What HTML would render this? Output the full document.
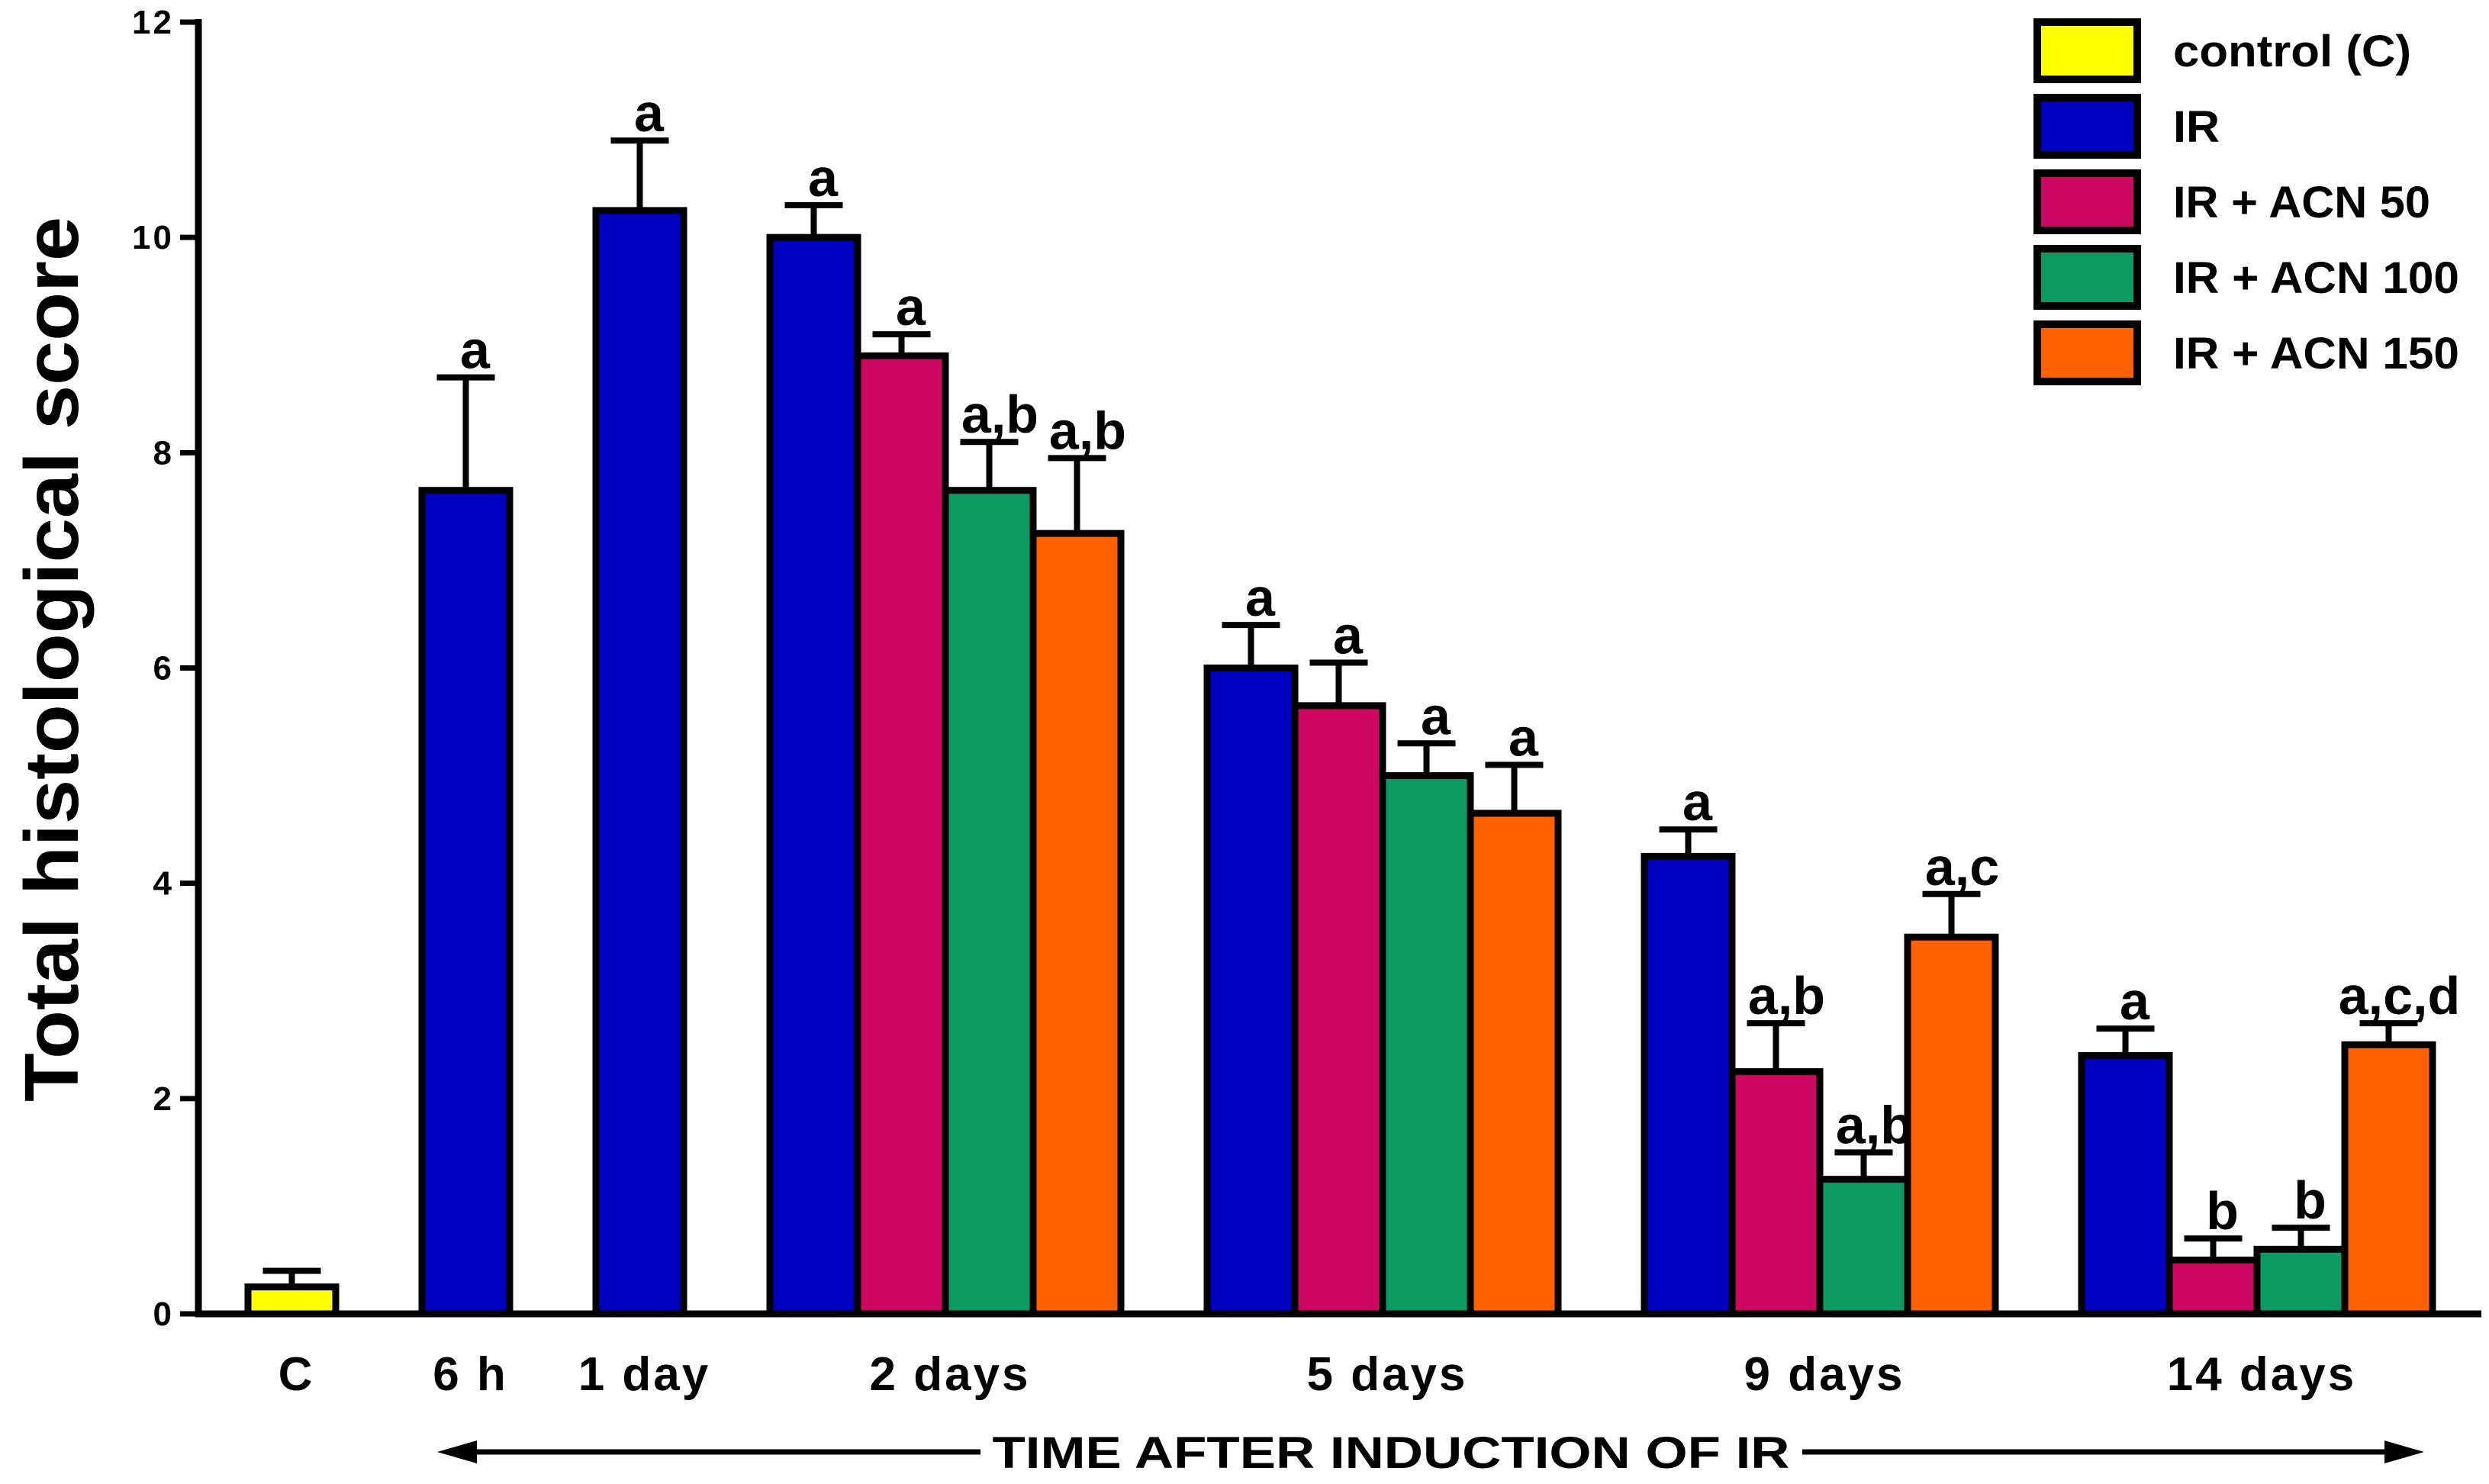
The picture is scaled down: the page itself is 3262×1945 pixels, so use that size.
<!DOCTYPE html>
<html><head><meta charset="utf-8"><style>
html,body{margin:0;padding:0;background:#fff}
svg{display:block}
text{font-family:"Liberation Sans",Arial,sans-serif;font-weight:bold;fill:#000}
</style></head><body>
<svg id="chart" width="3262" height="1945" viewBox="0 0 3262 1945">
</svg>
<script>
const categories = ["C","6 h","1 day","2 days","5 days","9 days","14 days"];
const seriesNames = ["control (C)","IR","IR + ACN 50","IR + ACN 100","IR + ACN 150"];
const catSeries = [[0],[1],[1],[1,2,3,4],[1,2,3,4],[1,2,3,4],[1,2,3,4]];
const means = [[0.25],[7.65],[10.25],[10.0,8.9,7.65,7.25],[6.0,5.65,5.0,4.65],[4.25,2.25,1.25,3.5],[2.4,0.5,0.6,2.5]];
const errTops = [[0.4],[8.7],[10.9],[10.3,9.1,8.1,7.95],[6.4,6.05,5.3,5.1],[4.5,2.7,1.5,3.9],[2.65,0.7,0.8,2.7]];
const annots = [[""],["a"],["a"],["a","a","a,b","a,b"],["a","a","a","a"],["a","a,b","a,b","a,c"],["a","b","b","a,c,d"]];
const yTicks = [0,2,4,6,8,10,12];
const colors = ["#ffff00","#0000c0","#cc0863","#0c9962","#ff6000"];

const NS="http://www.w3.org/2000/svg";
const svg=document.getElementById('chart');
function mk(tag,attrs,parent){const e=document.createElementNS(NS,tag);for(const k in attrs)e.setAttribute(k,attrs[k]);(parent||svg).appendChild(e);return e;}
const y0=1722,yTop=29,yMax=12;
function yScale(v){return y0-(y0-yTop)*v/yMax;}
const axisX=260,barW=115,gap=113,startX=325;

let x=startX;
categories.forEach((cat,ci)=>{
  const gStart=x;
  catSeries[ci].forEach((si,bi)=>{
    const v=means[ci][bi],e=errTops[ci][bi];
    const cx=x+barW/2;
    const er=mk('line',{x1:cx,x2:cx,y1:yScale(v),y2:yScale(e),stroke:'#000','stroke-width':8});
    
    
    const cap=mk('line',{x1:cx-38,x2:cx+38,y1:yScale(e),y2:yScale(e),stroke:'#000','stroke-width':8});
    
    
    const r=mk('rect',{x:x,y:yScale(v),width:barW,height:y0-yScale(v),fill:colors[si],stroke:'#000','stroke-width':9});
    
    
    if(annots[ci][bi]){
      const t=mk('text',{x:cx+(annots[ci][bi].length>1?14:12),y:yScale(e)-12,'font-size':70,'text-anchor':'middle'});
      t.textContent=annots[ci][bi];
      
      
    }
    x+=barW;
  });
  const lab=mk('text',{x:(gStart+x)/2+6,y:1822,'font-size':62,'text-anchor':'middle','letter-spacing':3});
  lab.textContent=cat;
  
  
  x+=gap;
});

const ya=mk('line',{x1:axisX,x2:axisX,y1:yTop-4,y2:y0+4,stroke:'#000','stroke-width':9});


const xa=mk('line',{x1:axisX-4,x2:3252,y1:y0,y2:y0,stroke:'#000','stroke-width':9});


yTicks.forEach(v=>{
  const tk=mk('line',{x1:axisX-24,x2:axisX,y1:yScale(v),y2:yScale(v),stroke:'#000','stroke-width':7});
  
  
  const t=mk('text',{x:axisX-32,y:yScale(v)+15,'font-size':44,'text-anchor':'end','letter-spacing':3});
  t.textContent=v;
  
  
});
const yt=mk('text',{x:0,y:0,'font-size':100,'text-anchor':'middle',transform:'translate(102,864) rotate(-90)',textLength:1160,lengthAdjust:'spacingAndGlyphs'});
yt.textContent='Total histological score';



const legendLens=[312,61,337,375,375];
seriesNames.forEach((n,i)=>{
  const yy=29+i*99;
  const r=mk('rect',{x:2670,y:yy,width:131,height:75,fill:colors[i],stroke:'#000','stroke-width':10});
  
  
  const t=mk('text',{x:2848,y:yy+58,'font-size':58,textLength:legendLens[i],lengthAdjust:'spacingAndGlyphs'});
  t.textContent=n;
  
  
});

const ttl=mk('text',{x:1823,y:1924,'font-size':58,'text-anchor':'middle',textLength:1045,lengthAdjust:'spacingAndGlyphs'});
ttl.textContent='TIME AFTER INDUCTION OF IR';


const a1=mk('line',{x1:600,x2:1285,y1:1903,y2:1903,stroke:'#000','stroke-width':7});


const a2=mk('line',{x1:2362,x2:3150,y1:1903,y2:1903,stroke:'#000','stroke-width':7});


const h1=mk('polygon',{points:'573,1903 625,1888 625,1918',fill:'#000'});


const h2=mk('polygon',{points:'3177,1903 3125,1888 3125,1918',fill:'#000'});


</script>
</body></html>
